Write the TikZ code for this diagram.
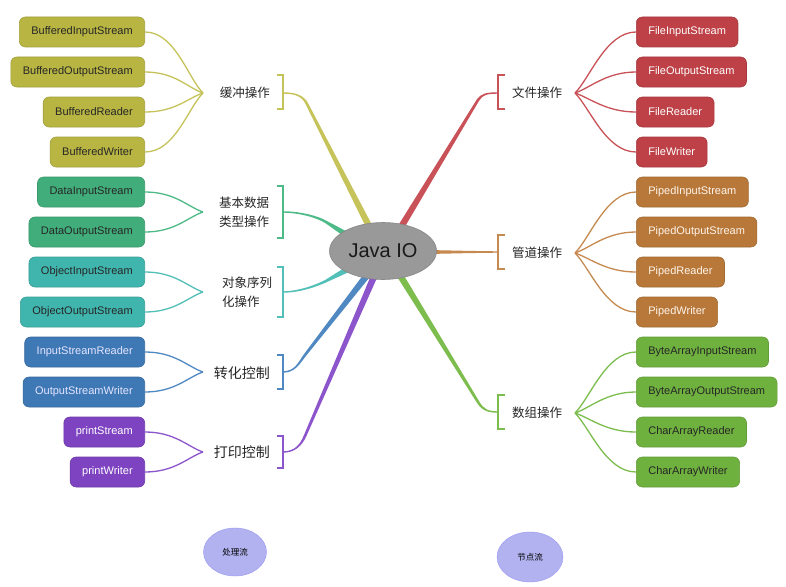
\documentclass[tikz,border=0pt]{standalone}
\usepackage{fontspec}
\setmainfont{Liberation Sans}
\newfontfamily\cjk{Noto Sans CJK SC}
\usetikzlibrary{calc,shapes.geometric}
\definecolor{cB}{HTML}{B8B543}\definecolor{lB}{HTML}{C6C35A}
\definecolor{cD}{HTML}{41AD7A}\definecolor{lD}{HTML}{4DBA88}
\definecolor{cO}{HTML}{40B5AD}\definecolor{lO}{HTML}{52BFB8}
\definecolor{cC}{HTML}{3E78B5}\definecolor{lC}{HTML}{5088C2}
\definecolor{cP}{HTML}{7D43C0}\definecolor{lP}{HTML}{8C55CC}
\definecolor{cF}{HTML}{BD4146}\definecolor{lF}{HTML}{C85258}
\definecolor{cW}{HTML}{B7783A}\definecolor{lW}{HTML}{C68A50}
\definecolor{cA}{HTML}{6FB13F}\definecolor{lA}{HTML}{7DBD4D}
\definecolor{lav}{HTML}{B2B2F0}
\newcommand\limb[7]{%
 \fill[#1] ($(#2)!0.7pt!90:(#3)$) .. controls ($(#3)!0.8pt!-90:(#2)$) and ($(#4)!1.1pt!90:(#5)$) .. ($(#5)!1.3pt!90:(#6)$)
  -- ($(#6)!#7!-90:(#5)$) -- ($(#6)!#7!90:(#5)$)
  -- ($(#5)!1.3pt!-90:(#6)$) .. controls ($(#4)!1.1pt!-90:(#5)$) and ($(#3)!0.8pt!90:(#2)$) .. ($(#2)!0.7pt!-90:(#3)$) -- cycle;}
\tikzset{
 leaf/.style n args={2}{draw=#1!88!black, fill=#1, text=#2, rounded corners=6pt,
   minimum height=30pt, inner xsep=12pt, inner ysep=0pt, line width=0.6pt,
   font=\fontsize{11}{13}\selectfont},
 lleaf/.style n args={2}{leaf={#1}{#2}, anchor=east},
 rleaf/.style n args={2}{leaf={#1}{#2}, anchor=west},
 fan/.style={draw=#1, line width=1.3pt},
 brk/.style={draw=#1, line width=1.2pt},
 cat/.style={font=\cjk\fontsize{12.5}{19}\selectfont, text=black!85, inner sep=0pt},
}
\begin{document}
\begin{tikzpicture}[x=1pt,y=-1pt]
\useasboundingbox (0,0) rectangle (786,586);
\fill[white] (0,0) rectangle (786,586);
% ---- left leaves
\node[lleaf={cB}{black!85}] (bis) at (145,32) {BufferedInputStream};
\node[lleaf={cB}{black!85}] (bos) at (145,72) {BufferedOutputStream};
\node[lleaf={cB}{black!85}] (br) at (145,112) {BufferedReader};
\node[lleaf={cB}{black!85}] (bw) at (145,152) {BufferedWriter};
\node[lleaf={cD}{black!85}] (dis) at (145,192) {DataInputStream};
\node[lleaf={cD}{black!85}] (dos) at (145,232) {DataOutputStream};
\node[lleaf={cO}{black!85}] (ois) at (145,272) {ObjectInputStream};
\node[lleaf={cO}{black!85}] (oos) at (145,312) {ObjectOutputStream};
\node[lleaf={cC}{white!90!blue}] (isr) at (145,352) {InputStreamReader};
\node[lleaf={cC}{white!90!blue}] (osw) at (145,392) {OutputStreamWriter};
\node[lleaf={cP}{white}] (ps) at (145,432) {printStream};
\node[lleaf={cP}{white}] (pw) at (145,472) {printWriter};
% ---- right leaves
\node[rleaf={cF}{white}] (fis) at (636,32) {FileInputStream};
\node[rleaf={cF}{white}] (fos) at (636,72) {FileOutputStream};
\node[rleaf={cF}{white}] (fr) at (636,112) {FileReader};
\node[rleaf={cF}{white}] (fw) at (636,152) {FileWriter};
\node[rleaf={cW}{white!92!orange}] (pis) at (636,192) {PipedInputStream};
\node[rleaf={cW}{white!92!orange}] (pos) at (636,232) {PipedOutputStream};
\node[rleaf={cW}{white!92!orange}] (pr) at (636,272) {PipedReader};
\node[rleaf={cW}{white!92!orange}] (pwr) at (636,312) {PipedWriter};
\node[rleaf={cA}{black!85}] (bais) at (636,352) {ByteArrayInputStream};
\node[rleaf={cA}{black!85}] (baos) at (636,392) {ByteArrayOutputStream};
\node[rleaf={cA}{black!85}] (car) at (636,432) {CharArrayReader};
\node[rleaf={cA}{black!85}] (caw) at (636,472) {CharArrayWriter};
% ---- category labels
\node[cat, anchor=east] (tB) at (270,93) {缓冲操作};
\node[cat, anchor=west, align=left] (tD) at (219,212) {基本数据\\类型操作};
\node[cat, anchor=west, align=left] (tO) at (222,292) {对象序列\\化操作};
\node[cat, anchor=east, font=\cjk\fontsize{14}{19}\selectfont] (tC) at (270,373) {转化控制};
\node[cat, anchor=east, font=\cjk\fontsize{14}{19}\selectfont] (tP) at (270,452) {打印控制};
\node[cat, anchor=west] (tF) at (512,93) {文件操作};
\node[cat, anchor=west] (tW) at (512,253) {管道操作};
\node[cat, anchor=west] (tA) at (512,413) {数组操作};
% ---- convergence points
\coordinate (vB) at (203,93); \coordinate (vD) at (203,212); \coordinate (vO) at (203,292);
\coordinate (vC) at (203,372); \coordinate (vP) at (203,452);
\coordinate (vF) at (575,93); \coordinate (vW) at (575,253); \coordinate (vA) at (575,413);
% ---- fans
\foreach \n/\d in {bis/-15,bos/-5,br/5,bw/15} \draw[fan=lB] (vB) .. controls +(-15,\d) and +(30,0) .. (\n.east);
\foreach \n/\d in {dis/-5,dos/5} \draw[fan=lD] (vD) .. controls +(-15,\d) and +(30,0) .. (\n.east);
\foreach \n/\d in {ois/-5,oos/5} \draw[fan=lO] (vO) .. controls +(-15,\d) and +(30,0) .. (\n.east);
\foreach \n/\d in {isr/-5,osw/5} \draw[fan=lC] (vC) .. controls +(-15,\d) and +(30,0) .. (\n.east);
\foreach \n/\d in {ps/-5,pw/5} \draw[fan=lP] (vP) .. controls +(-15,\d) and +(30,0) .. (\n.east);
\foreach \n/\d in {fis/-15,fos/-5,fr/5,fw/15} \draw[fan=lF] (vF) .. controls +(15,\d) and +(-30,0) .. (\n.west);
\foreach \n/\d in {pis/-15,pos/-5,pr/5,pwr/15} \draw[fan=lW] (vW) .. controls +(15,\d) and +(-30,0) .. (\n.west);
\foreach \n/\d in {bais/-15,baos/-5,car/5,caw/15} \draw[fan=lA] (vA) .. controls +(15,\d) and +(-30,0) .. (\n.west);
% ---- brackets
\draw[brk=lB] (277,75) -- (283,75) -- (283,109) -- (277,109);
\draw[brk=lD] (277,186) -- (283,186) -- (283,238) -- (277,238);
\draw[brk=lO] (277,267) -- (283,267) -- (283,317) -- (277,317);
\draw[brk=lC] (277,355) -- (283,355) -- (283,389) -- (277,389);
\draw[brk=lP] (277,436) -- (283,436) -- (283,468) -- (277,468);
\draw[brk=lF] (505,75) -- (498,75) -- (498,109) -- (505,109);
\draw[brk=lW] (505,235) -- (498,235) -- (498,269) -- (505,269);
\draw[brk=lA] (505,395) -- (498,395) -- (498,429) -- (505,429);
% ---- main branches
\coordinate (kB) at (283,93); \coordinate (kD) at (283,212); \coordinate (kO) at (283,292);
\coordinate (kC) at (283,372); \coordinate (kP) at (283,452);
\coordinate (kF) at (498,93); \coordinate (kW) at (498,252); \coordinate (kA) at (498,412);
\limb{lB}{kB}{296,93}{303,96}{307,104}{372,232}{3.3pt}
\limb{lD}{kD}{300,212}{318,217}{326,222}{352,238}{3.3pt}
\limb{lO}{kO}{300,292}{318,285}{326,281}{352,267}{3.3pt}
\limb{lC}{kC}{295,372}{299,363}{305,355}{368,274}{3.3pt}
\limb{lP}{kP}{295,452}{301,445}{305,436}{376,272}{3.3pt}
\limb{lF}{kF}{487,93}{482,94}{478,100}{398,232}{3.3pt}
\limb{lW}{kW}{485,252}{470,252}{460,252}{428,252}{2pt}
\limb{lA}{kA}{488,412}{483,410}{478,402}{398,272}{3.3pt}
% ---- center
\node[ellipse, fill=black!40, draw=black!47, line width=0.6pt, minimum width=107pt, minimum height=57pt,
  inner sep=0pt, font=\fontsize{20}{24}\selectfont, text=black!90] (jio) at (383,251) {Java IO};
% ---- bottom
\node[ellipse, fill=lav, draw=lav!85!blue, line width=0.4pt, minimum width=63pt, minimum height=48pt,
  inner sep=0pt, font=\cjk\fontsize{8.5}{10}\selectfont] (proc) at (235,552) {处理流};
\node[ellipse, fill=lav, draw=lav!85!blue, line width=0.4pt, minimum width=66pt, minimum height=50pt,
  inner sep=0pt, font=\cjk\fontsize{8.5}{10}\selectfont] (node) at (530,557) {节点流};
\end{tikzpicture}
\end{document}
